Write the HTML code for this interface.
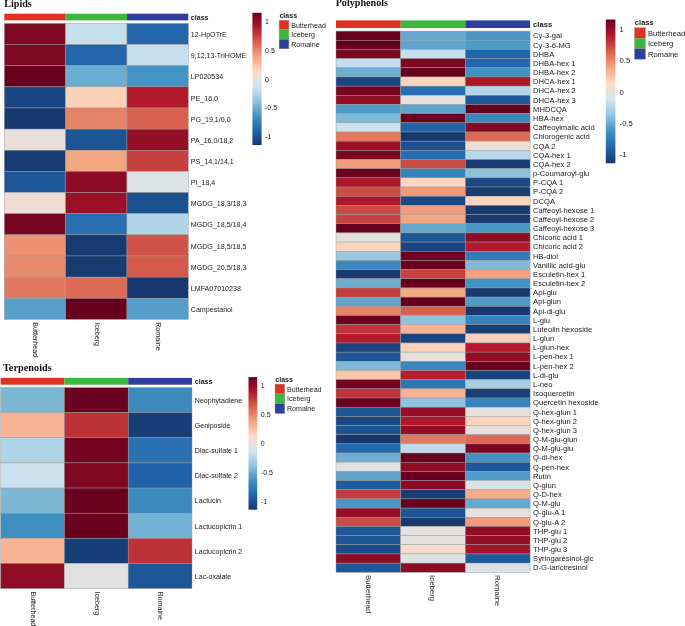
<!DOCTYPE html>
<html><head><meta charset="utf-8"><title>Heatmaps</title>
<style>html,body{margin:0;padding:0;background:#fff;}svg{display:block;filter:blur(0.35px)}
svg text{font-family:"Liberation Sans",sans-serif;fill:#1a1a1a;}
svg text.ttl{font-family:"Liberation Serif",serif;font-weight:bold;fill:#111;}</style></head>
<body><svg width="685" height="626" viewBox="0 0 685 626">
<defs><linearGradient id="cb" x1="0" y1="0" x2="0" y2="1"><stop offset="0.00%" stop-color="#67001F"/><stop offset="11.11%" stop-color="#B2182B"/><stop offset="22.22%" stop-color="#D6604D"/><stop offset="33.33%" stop-color="#F4A582"/><stop offset="44.44%" stop-color="#FDDBC7"/><stop offset="55.56%" stop-color="#D1E5F0"/><stop offset="66.67%" stop-color="#92C5DE"/><stop offset="77.78%" stop-color="#4393C3"/><stop offset="88.89%" stop-color="#2166AC"/><stop offset="100.00%" stop-color="#17386F"/></linearGradient></defs>
<rect width="685" height="626" fill="#fff"/>
<text x="4.3" y="6.9" class="ttl" font-size="10.1">Lipids</text>
<rect x="4.30" y="13.7" width="61.33" height="6.70" fill="#e03222"/>
<rect x="65.63" y="13.7" width="61.33" height="6.70" fill="#3cb83e"/>
<rect x="126.97" y="13.7" width="61.33" height="6.70" fill="#2f3f9f"/>
<rect x="4.30" y="23.40" width="61.33" height="21.14" fill="#7f0823" stroke="#9a9a9a" stroke-width="0.45"/>
<rect x="65.63" y="23.40" width="61.33" height="21.14" fill="#c5dfed" stroke="#9a9a9a" stroke-width="0.45"/>
<rect x="126.97" y="23.40" width="61.33" height="21.14" fill="#2165ab" stroke="#9a9a9a" stroke-width="0.45"/>
<text x="190.8" y="37.13" font-size="7.1">12-HpOTrE</text>
<rect x="4.30" y="44.54" width="61.33" height="21.14" fill="#7f0823" stroke="#9a9a9a" stroke-width="0.45"/>
<rect x="65.63" y="44.54" width="61.33" height="21.14" fill="#2165ab" stroke="#9a9a9a" stroke-width="0.45"/>
<rect x="126.97" y="44.54" width="61.33" height="21.14" fill="#c5dfed" stroke="#9a9a9a" stroke-width="0.45"/>
<text x="190.8" y="58.27" font-size="7.1">9,12,13-TriHOME</text>
<rect x="4.30" y="65.69" width="61.33" height="21.14" fill="#67001f" stroke="#9a9a9a" stroke-width="0.45"/>
<rect x="65.63" y="65.69" width="61.33" height="21.14" fill="#6bacd1" stroke="#9a9a9a" stroke-width="0.45"/>
<rect x="126.97" y="65.69" width="61.33" height="21.14" fill="#4494c3" stroke="#9a9a9a" stroke-width="0.45"/>
<text x="190.8" y="79.41" font-size="7.1">LP020534</text>
<rect x="4.30" y="86.83" width="61.33" height="21.14" fill="#1a4782" stroke="#9a9a9a" stroke-width="0.45"/>
<rect x="65.63" y="86.83" width="61.33" height="21.14" fill="#fbd1ba" stroke="#9a9a9a" stroke-width="0.45"/>
<rect x="126.97" y="86.83" width="61.33" height="21.14" fill="#b1182b" stroke="#9a9a9a" stroke-width="0.45"/>
<text x="190.8" y="100.56" font-size="7.1">PE_16,0</text>
<rect x="4.30" y="107.97" width="61.33" height="21.14" fill="#17386f" stroke="#9a9a9a" stroke-width="0.45"/>
<rect x="65.63" y="107.97" width="61.33" height="21.14" fill="#e58368" stroke="#9a9a9a" stroke-width="0.45"/>
<rect x="126.97" y="107.97" width="61.33" height="21.14" fill="#d6614e" stroke="#9a9a9a" stroke-width="0.45"/>
<text x="190.8" y="121.70" font-size="7.1">PG_19,1/0,0</text>
<rect x="4.30" y="129.11" width="61.33" height="21.14" fill="#e8e0db" stroke="#9a9a9a" stroke-width="0.45"/>
<rect x="65.63" y="129.11" width="61.33" height="21.14" fill="#1d5494" stroke="#9a9a9a" stroke-width="0.45"/>
<rect x="126.97" y="129.11" width="61.33" height="21.14" fill="#940e26" stroke="#9a9a9a" stroke-width="0.45"/>
<text x="190.8" y="142.84" font-size="7.1">PA_16,0/18,2</text>
<rect x="4.30" y="150.26" width="61.33" height="21.14" fill="#183b73" stroke="#9a9a9a" stroke-width="0.45"/>
<rect x="65.63" y="150.26" width="61.33" height="21.14" fill="#f4a582" stroke="#9a9a9a" stroke-width="0.45"/>
<rect x="126.97" y="150.26" width="61.33" height="21.14" fill="#c6403e" stroke="#9a9a9a" stroke-width="0.45"/>
<text x="190.8" y="163.98" font-size="7.1">PS_14,1/14,1</text>
<rect x="4.30" y="171.40" width="61.33" height="21.14" fill="#1e589a" stroke="#9a9a9a" stroke-width="0.45"/>
<rect x="65.63" y="171.40" width="61.33" height="21.14" fill="#8c0c25" stroke="#9a9a9a" stroke-width="0.45"/>
<rect x="126.97" y="171.40" width="61.33" height="21.14" fill="#dde2e5" stroke="#9a9a9a" stroke-width="0.45"/>
<text x="190.8" y="185.13" font-size="7.1">PI_18,4</text>
<rect x="4.30" y="192.54" width="61.33" height="21.14" fill="#eeded5" stroke="#9a9a9a" stroke-width="0.45"/>
<rect x="65.63" y="192.54" width="61.33" height="21.14" fill="#991027" stroke="#9a9a9a" stroke-width="0.45"/>
<rect x="126.97" y="192.54" width="61.33" height="21.14" fill="#1c508f" stroke="#9a9a9a" stroke-width="0.45"/>
<text x="190.8" y="206.27" font-size="7.1">MGDG_18,3/18,3</text>
<rect x="4.30" y="213.69" width="61.33" height="21.14" fill="#770522" stroke="#9a9a9a" stroke-width="0.45"/>
<rect x="65.63" y="213.69" width="61.33" height="21.14" fill="#286fb1" stroke="#9a9a9a" stroke-width="0.45"/>
<rect x="126.97" y="213.69" width="61.33" height="21.14" fill="#b1d5e7" stroke="#9a9a9a" stroke-width="0.45"/>
<text x="190.8" y="227.41" font-size="7.1">MGDG_18,5/18,4</text>
<rect x="4.30" y="234.83" width="61.33" height="21.14" fill="#ec9273" stroke="#9a9a9a" stroke-width="0.45"/>
<rect x="65.63" y="234.83" width="61.33" height="21.14" fill="#173a71" stroke="#9a9a9a" stroke-width="0.45"/>
<rect x="126.97" y="234.83" width="61.33" height="21.14" fill="#d05447" stroke="#9a9a9a" stroke-width="0.45"/>
<text x="190.8" y="248.56" font-size="7.1">MGDG_18,5/18,5</text>
<rect x="4.30" y="255.97" width="61.33" height="21.14" fill="#e88a6d" stroke="#9a9a9a" stroke-width="0.45"/>
<rect x="65.63" y="255.97" width="61.33" height="21.14" fill="#173a71" stroke="#9a9a9a" stroke-width="0.45"/>
<rect x="126.97" y="255.97" width="61.33" height="21.14" fill="#d3594a" stroke="#9a9a9a" stroke-width="0.45"/>
<text x="190.8" y="269.70" font-size="7.1">MGDG_20,5/18,3</text>
<rect x="4.30" y="277.11" width="61.33" height="21.14" fill="#e17960" stroke="#9a9a9a" stroke-width="0.45"/>
<rect x="65.63" y="277.11" width="61.33" height="21.14" fill="#db6b55" stroke="#9a9a9a" stroke-width="0.45"/>
<rect x="126.97" y="277.11" width="61.33" height="21.14" fill="#17386f" stroke="#9a9a9a" stroke-width="0.45"/>
<text x="190.8" y="290.84" font-size="7.1">LMFA07010238</text>
<rect x="4.30" y="298.26" width="61.33" height="21.14" fill="#57a0ca" stroke="#9a9a9a" stroke-width="0.45"/>
<rect x="65.63" y="298.26" width="61.33" height="21.14" fill="#67001f" stroke="#9a9a9a" stroke-width="0.45"/>
<rect x="126.97" y="298.26" width="61.33" height="21.14" fill="#559ec9" stroke="#9a9a9a" stroke-width="0.45"/>
<text x="190.8" y="311.98" font-size="7.1">Campestanol</text>
<text x="190.8" y="19.61" font-size="7.1" font-weight="bold">class</text>
<text transform="translate(33.19,322.20) rotate(90)" font-size="7.15">Butterhead</text>
<text transform="translate(94.53,322.20) rotate(90)" font-size="7.15">Iceberg</text>
<text transform="translate(155.86,322.20) rotate(90)" font-size="7.15">Romaine</text>
<rect x="252.4" y="12.8" width="9.20" height="132.20" fill="url(#cb)"/>
<text x="265.0" y="24.46" font-size="7.1">1</text>
<text x="265.0" y="53.13" font-size="7.1">0.5</text>
<text x="265.0" y="81.81" font-size="7.1">0</text>
<text x="265.0" y="110.48" font-size="7.1">-0.5</text>
<text x="265.0" y="139.16" font-size="7.1">-1</text>
<text x="279.40000000000003" y="17.6" font-size="7.1" font-weight="bold">class</text>
<rect x="279.1" y="20.20" width="9.8" height="9.55" fill="#e03222" stroke="#9a9a9a" stroke-width="0.4"/>
<text x="291.2" y="27.53" font-size="7.1">Butterhead</text>
<rect x="279.1" y="29.75" width="9.8" height="9.55" fill="#3cb83e" stroke="#9a9a9a" stroke-width="0.4"/>
<text x="291.2" y="37.08" font-size="7.1">Iceberg</text>
<rect x="279.1" y="39.30" width="9.8" height="9.55" fill="#2f3f9f" stroke="#9a9a9a" stroke-width="0.4"/>
<text x="291.2" y="46.63" font-size="7.1">Romaine</text>
<text x="2.9" y="371.4" class="ttl" font-size="10.3">Terpenoids</text>
<rect x="0.60" y="377.9" width="63.80" height="6.80" fill="#e03222"/>
<rect x="64.40" y="377.9" width="63.80" height="6.80" fill="#3cb83e"/>
<rect x="128.20" y="377.9" width="63.80" height="6.80" fill="#2f3f9f"/>
<rect x="0.60" y="387.50" width="63.80" height="25.14" fill="#7cb7d6" stroke="#9a9a9a" stroke-width="0.45"/>
<rect x="64.40" y="387.50" width="63.80" height="25.14" fill="#6a011f" stroke="#9a9a9a" stroke-width="0.45"/>
<rect x="128.20" y="387.50" width="63.80" height="25.14" fill="#3c8abe" stroke="#9a9a9a" stroke-width="0.45"/>
<text x="194.8" y="402.91" font-size="7.05">Neophytadiene</text>
<rect x="0.60" y="412.64" width="63.80" height="25.14" fill="#f7b495" stroke="#9a9a9a" stroke-width="0.45"/>
<rect x="64.40" y="412.64" width="63.80" height="25.14" fill="#be3137" stroke="#9a9a9a" stroke-width="0.45"/>
<rect x="128.20" y="412.64" width="63.80" height="25.14" fill="#183e78" stroke="#9a9a9a" stroke-width="0.45"/>
<text x="194.8" y="428.04" font-size="7.05">Geniposide</text>
<rect x="0.60" y="437.77" width="63.80" height="25.14" fill="#afd4e6" stroke="#9a9a9a" stroke-width="0.45"/>
<rect x="64.40" y="437.77" width="63.80" height="25.14" fill="#740421" stroke="#9a9a9a" stroke-width="0.45"/>
<rect x="128.20" y="437.77" width="63.80" height="25.14" fill="#2971b1" stroke="#9a9a9a" stroke-width="0.45"/>
<text x="194.8" y="453.18" font-size="7.05">Dlac-sulfate 1</text>
<rect x="0.60" y="462.91" width="63.80" height="25.14" fill="#cce2ef" stroke="#9a9a9a" stroke-width="0.45"/>
<rect x="64.40" y="462.91" width="63.80" height="25.14" fill="#810823" stroke="#9a9a9a" stroke-width="0.45"/>
<rect x="128.20" y="462.91" width="63.80" height="25.14" fill="#2062a7" stroke="#9a9a9a" stroke-width="0.45"/>
<text x="194.8" y="478.32" font-size="7.05">Dlac-sulfate 2</text>
<rect x="0.60" y="488.05" width="63.80" height="25.14" fill="#7cb7d6" stroke="#9a9a9a" stroke-width="0.45"/>
<rect x="64.40" y="488.05" width="63.80" height="25.14" fill="#6a011f" stroke="#9a9a9a" stroke-width="0.45"/>
<rect x="128.20" y="488.05" width="63.80" height="25.14" fill="#3c8abe" stroke="#9a9a9a" stroke-width="0.45"/>
<text x="194.8" y="503.46" font-size="7.05">Lactucin</text>
<rect x="0.60" y="513.19" width="63.80" height="25.14" fill="#408fc1" stroke="#9a9a9a" stroke-width="0.45"/>
<rect x="64.40" y="513.19" width="63.80" height="25.14" fill="#6a011f" stroke="#9a9a9a" stroke-width="0.45"/>
<rect x="128.20" y="513.19" width="63.80" height="25.14" fill="#73b2d4" stroke="#9a9a9a" stroke-width="0.45"/>
<text x="194.8" y="528.59" font-size="7.05">Lactucopicrin 1</text>
<rect x="0.60" y="538.33" width="63.80" height="25.14" fill="#f7b495" stroke="#9a9a9a" stroke-width="0.45"/>
<rect x="64.40" y="538.33" width="63.80" height="25.14" fill="#183e78" stroke="#9a9a9a" stroke-width="0.45"/>
<rect x="128.20" y="538.33" width="63.80" height="25.14" fill="#be3137" stroke="#9a9a9a" stroke-width="0.45"/>
<text x="194.8" y="553.73" font-size="7.05">Lactucopicrin 2</text>
<rect x="0.60" y="563.46" width="63.80" height="25.14" fill="#8f0d25" stroke="#9a9a9a" stroke-width="0.45"/>
<rect x="64.40" y="563.46" width="63.80" height="25.14" fill="#e2e1e1" stroke="#9a9a9a" stroke-width="0.45"/>
<rect x="128.20" y="563.46" width="63.80" height="25.14" fill="#1e5798" stroke="#9a9a9a" stroke-width="0.45"/>
<text x="194.8" y="578.87" font-size="7.05">Lac-oxalate</text>
<text x="194.8" y="383.84" font-size="7.05" font-weight="bold">class</text>
<text transform="translate(30.83,591.40) rotate(90)" font-size="7.15">Butterhead</text>
<text transform="translate(94.63,591.40) rotate(90)" font-size="7.15">Iceberg</text>
<text transform="translate(158.43,591.40) rotate(90)" font-size="7.15">Romaine</text>
<rect x="248.5" y="377.1" width="8.70" height="132.60" fill="url(#cb)"/>
<text x="260.8" y="388.34" font-size="7.05">1</text>
<text x="260.8" y="417.14" font-size="7.05">0.5</text>
<text x="260.8" y="445.94" font-size="7.05">0</text>
<text x="260.8" y="474.74" font-size="7.05">-0.5</text>
<text x="260.8" y="503.54" font-size="7.05">-1</text>
<text x="275.3" y="381.8" font-size="7.05" font-weight="bold">class</text>
<rect x="275.0" y="384.10" width="9.7" height="9.80" fill="#e03222" stroke="#9a9a9a" stroke-width="0.4"/>
<text x="287.0" y="391.54" font-size="7.05">Butterhead</text>
<rect x="275.0" y="393.90" width="9.7" height="9.80" fill="#3cb83e" stroke="#9a9a9a" stroke-width="0.4"/>
<text x="287.0" y="401.34" font-size="7.05">Iceberg</text>
<rect x="275.0" y="403.70" width="9.7" height="9.80" fill="#2f3f9f" stroke="#9a9a9a" stroke-width="0.4"/>
<text x="287.0" y="411.14" font-size="7.05">Romaine</text>
<text x="335.7" y="6.4" class="ttl" font-size="10.15">Polyphenols</text>
<rect x="336.00" y="20.4" width="64.70" height="7.60" fill="#e03222"/>
<rect x="400.70" y="20.4" width="64.70" height="7.60" fill="#3cb83e"/>
<rect x="465.40" y="20.4" width="64.70" height="7.60" fill="#2f3f9f"/>
<rect x="336.00" y="31.10" width="64.70" height="9.17" fill="#67001f" stroke="#9a9a9a" stroke-width="0.45"/>
<rect x="400.70" y="31.10" width="64.70" height="9.17" fill="#65a9cf" stroke="#9a9a9a" stroke-width="0.45"/>
<rect x="465.40" y="31.10" width="64.70" height="9.17" fill="#4a97c5" stroke="#9a9a9a" stroke-width="0.45"/>
<text x="533.1" y="38.43" font-size="7.62">Cy-3-gal</text>
<rect x="336.00" y="40.27" width="64.70" height="9.17" fill="#67001f" stroke="#9a9a9a" stroke-width="0.45"/>
<rect x="400.70" y="40.27" width="64.70" height="9.17" fill="#60a5cd" stroke="#9a9a9a" stroke-width="0.45"/>
<rect x="465.40" y="40.27" width="64.70" height="9.17" fill="#4f9bc7" stroke="#9a9a9a" stroke-width="0.45"/>
<text x="533.1" y="47.60" font-size="7.62">Cy-3-6-MG</text>
<rect x="336.00" y="49.45" width="64.70" height="9.17" fill="#7c0722" stroke="#9a9a9a" stroke-width="0.45"/>
<rect x="400.70" y="49.45" width="64.70" height="9.17" fill="#c5dfed" stroke="#9a9a9a" stroke-width="0.45"/>
<rect x="465.40" y="49.45" width="64.70" height="9.17" fill="#2165ab" stroke="#9a9a9a" stroke-width="0.45"/>
<text x="533.1" y="56.78" font-size="7.62">DHBA</text>
<rect x="336.00" y="58.62" width="64.70" height="9.17" fill="#c3deec" stroke="#9a9a9a" stroke-width="0.45"/>
<rect x="400.70" y="58.62" width="64.70" height="9.17" fill="#7c0722" stroke="#9a9a9a" stroke-width="0.45"/>
<rect x="465.40" y="58.62" width="64.70" height="9.17" fill="#2267ad" stroke="#9a9a9a" stroke-width="0.45"/>
<text x="533.1" y="65.95" font-size="7.62">DHBA-hex 1</text>
<rect x="336.00" y="67.79" width="64.70" height="9.17" fill="#6eaed2" stroke="#9a9a9a" stroke-width="0.45"/>
<rect x="400.70" y="67.79" width="64.70" height="9.17" fill="#67001f" stroke="#9a9a9a" stroke-width="0.45"/>
<rect x="465.40" y="67.79" width="64.70" height="9.17" fill="#4292c2" stroke="#9a9a9a" stroke-width="0.45"/>
<text x="533.1" y="75.12" font-size="7.62">DHBA-hex 2</text>
<rect x="336.00" y="76.96" width="64.70" height="9.17" fill="#1a4782" stroke="#9a9a9a" stroke-width="0.45"/>
<rect x="400.70" y="76.96" width="64.70" height="9.17" fill="#fcd3bc" stroke="#9a9a9a" stroke-width="0.45"/>
<rect x="465.40" y="76.96" width="64.70" height="9.17" fill="#ae172a" stroke="#9a9a9a" stroke-width="0.45"/>
<text x="533.1" y="84.29" font-size="7.62">DHCA-hex 1</text>
<rect x="336.00" y="86.14" width="64.70" height="9.17" fill="#770522" stroke="#9a9a9a" stroke-width="0.45"/>
<rect x="400.70" y="86.14" width="64.70" height="9.17" fill="#276db0" stroke="#9a9a9a" stroke-width="0.45"/>
<rect x="465.40" y="86.14" width="64.70" height="9.17" fill="#b3d6e8" stroke="#9a9a9a" stroke-width="0.45"/>
<text x="533.1" y="93.47" font-size="7.62">DHCA-hex 2</text>
<rect x="336.00" y="95.31" width="64.70" height="9.17" fill="#8f0d25" stroke="#9a9a9a" stroke-width="0.45"/>
<rect x="400.70" y="95.31" width="64.70" height="9.17" fill="#e2e1e1" stroke="#9a9a9a" stroke-width="0.45"/>
<rect x="465.40" y="95.31" width="64.70" height="9.17" fill="#1e5798" stroke="#9a9a9a" stroke-width="0.45"/>
<text x="533.1" y="102.64" font-size="7.62">DHCA-hex 3</text>
<rect x="336.00" y="104.48" width="64.70" height="9.17" fill="#4f9bc7" stroke="#9a9a9a" stroke-width="0.45"/>
<rect x="400.70" y="104.48" width="64.70" height="9.17" fill="#60a5cd" stroke="#9a9a9a" stroke-width="0.45"/>
<rect x="465.40" y="104.48" width="64.70" height="9.17" fill="#67001f" stroke="#9a9a9a" stroke-width="0.45"/>
<text x="533.1" y="111.81" font-size="7.62">MHDCQA</text>
<rect x="336.00" y="113.66" width="64.70" height="9.17" fill="#7eb9d7" stroke="#9a9a9a" stroke-width="0.45"/>
<rect x="400.70" y="113.66" width="64.70" height="9.17" fill="#6a011f" stroke="#9a9a9a" stroke-width="0.45"/>
<rect x="465.40" y="113.66" width="64.70" height="9.17" fill="#3b88be" stroke="#9a9a9a" stroke-width="0.45"/>
<text x="533.1" y="120.99" font-size="7.62">HBA-hex</text>
<rect x="336.00" y="122.83" width="64.70" height="9.17" fill="#cce2ef" stroke="#9a9a9a" stroke-width="0.45"/>
<rect x="400.70" y="122.83" width="64.70" height="9.17" fill="#2062a7" stroke="#9a9a9a" stroke-width="0.45"/>
<rect x="465.40" y="122.83" width="64.70" height="9.17" fill="#810823" stroke="#9a9a9a" stroke-width="0.45"/>
<text x="533.1" y="130.16" font-size="7.62">Caffeoylmalic acid</text>
<rect x="336.00" y="132.00" width="64.70" height="9.17" fill="#e17960" stroke="#9a9a9a" stroke-width="0.45"/>
<rect x="400.70" y="132.00" width="64.70" height="9.17" fill="#17386f" stroke="#9a9a9a" stroke-width="0.45"/>
<rect x="465.40" y="132.00" width="64.70" height="9.17" fill="#db6b55" stroke="#9a9a9a" stroke-width="0.45"/>
<text x="533.1" y="139.33" font-size="7.62">Chlorogenic acid</text>
<rect x="336.00" y="141.17" width="64.70" height="9.17" fill="#991027" stroke="#9a9a9a" stroke-width="0.45"/>
<rect x="400.70" y="141.17" width="64.70" height="9.17" fill="#1c508f" stroke="#9a9a9a" stroke-width="0.45"/>
<rect x="465.40" y="141.17" width="64.70" height="9.17" fill="#ecdfd6" stroke="#9a9a9a" stroke-width="0.45"/>
<text x="533.1" y="148.50" font-size="7.62">CQA 2</text>
<rect x="336.00" y="150.35" width="64.70" height="9.17" fill="#770522" stroke="#9a9a9a" stroke-width="0.45"/>
<rect x="400.70" y="150.35" width="64.70" height="9.17" fill="#256caf" stroke="#9a9a9a" stroke-width="0.45"/>
<rect x="465.40" y="150.35" width="64.70" height="9.17" fill="#b8d8e9" stroke="#9a9a9a" stroke-width="0.45"/>
<text x="533.1" y="157.68" font-size="7.62">CQA-hex 1</text>
<rect x="336.00" y="159.52" width="64.70" height="9.17" fill="#f09b7b" stroke="#9a9a9a" stroke-width="0.45"/>
<rect x="400.70" y="159.52" width="64.70" height="9.17" fill="#cb4a43" stroke="#9a9a9a" stroke-width="0.45"/>
<rect x="465.40" y="159.52" width="64.70" height="9.17" fill="#173a71" stroke="#9a9a9a" stroke-width="0.45"/>
<text x="533.1" y="166.85" font-size="7.62">CQA-hex 2</text>
<rect x="336.00" y="168.69" width="64.70" height="9.17" fill="#6c0220" stroke="#9a9a9a" stroke-width="0.45"/>
<rect x="400.70" y="168.69" width="64.70" height="9.17" fill="#3682ba" stroke="#9a9a9a" stroke-width="0.45"/>
<rect x="465.40" y="168.69" width="64.70" height="9.17" fill="#8cc1dc" stroke="#9a9a9a" stroke-width="0.45"/>
<text x="533.1" y="176.02" font-size="7.62">p-Coumaroyl-glu</text>
<rect x="336.00" y="177.87" width="64.70" height="9.17" fill="#ae172a" stroke="#9a9a9a" stroke-width="0.45"/>
<rect x="400.70" y="177.87" width="64.70" height="9.17" fill="#fcd5bf" stroke="#9a9a9a" stroke-width="0.45"/>
<rect x="465.40" y="177.87" width="64.70" height="9.17" fill="#1b4885" stroke="#9a9a9a" stroke-width="0.45"/>
<text x="533.1" y="185.20" font-size="7.62">P-CQA 1</text>
<rect x="336.00" y="187.04" width="64.70" height="9.17" fill="#cc4d44" stroke="#9a9a9a" stroke-width="0.45"/>
<rect x="400.70" y="187.04" width="64.70" height="9.17" fill="#ef9979" stroke="#9a9a9a" stroke-width="0.45"/>
<rect x="465.40" y="187.04" width="64.70" height="9.17" fill="#173a71" stroke="#9a9a9a" stroke-width="0.45"/>
<text x="533.1" y="194.37" font-size="7.62">P-CQA 2</text>
<rect x="336.00" y="196.21" width="64.70" height="9.17" fill="#ae172a" stroke="#9a9a9a" stroke-width="0.45"/>
<rect x="400.70" y="196.21" width="64.70" height="9.17" fill="#1b4885" stroke="#9a9a9a" stroke-width="0.45"/>
<rect x="465.40" y="196.21" width="64.70" height="9.17" fill="#fcd5bf" stroke="#9a9a9a" stroke-width="0.45"/>
<text x="533.1" y="203.54" font-size="7.62">DCQA</text>
<rect x="336.00" y="205.38" width="64.70" height="9.17" fill="#cb4a43" stroke="#9a9a9a" stroke-width="0.45"/>
<rect x="400.70" y="205.38" width="64.70" height="9.17" fill="#f09b7b" stroke="#9a9a9a" stroke-width="0.45"/>
<rect x="465.40" y="205.38" width="64.70" height="9.17" fill="#173a71" stroke="#9a9a9a" stroke-width="0.45"/>
<text x="533.1" y="212.71" font-size="7.62">Caffeoyl-hexose 1</text>
<rect x="336.00" y="214.56" width="64.70" height="9.17" fill="#c7423f" stroke="#9a9a9a" stroke-width="0.45"/>
<rect x="400.70" y="214.56" width="64.70" height="9.17" fill="#f4a582" stroke="#9a9a9a" stroke-width="0.45"/>
<rect x="465.40" y="214.56" width="64.70" height="9.17" fill="#183b73" stroke="#9a9a9a" stroke-width="0.45"/>
<text x="533.1" y="221.89" font-size="7.62">Caffeoyl-hexose 2</text>
<rect x="336.00" y="223.73" width="64.70" height="9.17" fill="#67001f" stroke="#9a9a9a" stroke-width="0.45"/>
<rect x="400.70" y="223.73" width="64.70" height="9.17" fill="#65a9cf" stroke="#9a9a9a" stroke-width="0.45"/>
<rect x="465.40" y="223.73" width="64.70" height="9.17" fill="#4a97c5" stroke="#9a9a9a" stroke-width="0.45"/>
<text x="533.1" y="231.06" font-size="7.62">Caffeoyl-hexose 3</text>
<rect x="336.00" y="232.90" width="64.70" height="9.17" fill="#e2e1e1" stroke="#9a9a9a" stroke-width="0.45"/>
<rect x="400.70" y="232.90" width="64.70" height="9.17" fill="#1e5798" stroke="#9a9a9a" stroke-width="0.45"/>
<rect x="465.40" y="232.90" width="64.70" height="9.17" fill="#8f0d25" stroke="#9a9a9a" stroke-width="0.45"/>
<text x="533.1" y="240.23" font-size="7.62">Chicoric acid 1</text>
<rect x="336.00" y="242.08" width="64.70" height="9.17" fill="#fcd3bc" stroke="#9a9a9a" stroke-width="0.45"/>
<rect x="400.70" y="242.08" width="64.70" height="9.17" fill="#1a4782" stroke="#9a9a9a" stroke-width="0.45"/>
<rect x="465.40" y="242.08" width="64.70" height="9.17" fill="#b1182b" stroke="#9a9a9a" stroke-width="0.45"/>
<text x="533.1" y="249.41" font-size="7.62">Chicoric acid 2</text>
<rect x="336.00" y="251.25" width="64.70" height="9.17" fill="#99c8e0" stroke="#9a9a9a" stroke-width="0.45"/>
<rect x="400.70" y="251.25" width="64.70" height="9.17" fill="#6f0320" stroke="#9a9a9a" stroke-width="0.45"/>
<rect x="465.40" y="251.25" width="64.70" height="9.17" fill="#317cb7" stroke="#9a9a9a" stroke-width="0.45"/>
<text x="533.1" y="258.58" font-size="7.62">HB-diol</text>
<rect x="336.00" y="260.42" width="64.70" height="9.17" fill="#3b88be" stroke="#9a9a9a" stroke-width="0.45"/>
<rect x="400.70" y="260.42" width="64.70" height="9.17" fill="#6a011f" stroke="#9a9a9a" stroke-width="0.45"/>
<rect x="465.40" y="260.42" width="64.70" height="9.17" fill="#81bad8" stroke="#9a9a9a" stroke-width="0.45"/>
<text x="533.1" y="267.75" font-size="7.62">Vanillic acid-glu</text>
<rect x="336.00" y="269.59" width="64.70" height="9.17" fill="#183b73" stroke="#9a9a9a" stroke-width="0.45"/>
<rect x="400.70" y="269.59" width="64.70" height="9.17" fill="#c7423f" stroke="#9a9a9a" stroke-width="0.45"/>
<rect x="465.40" y="269.59" width="64.70" height="9.17" fill="#f3a380" stroke="#9a9a9a" stroke-width="0.45"/>
<text x="533.1" y="276.92" font-size="7.62">Esculetin-hex 1</text>
<rect x="336.00" y="278.77" width="64.70" height="9.17" fill="#6eaed2" stroke="#9a9a9a" stroke-width="0.45"/>
<rect x="400.70" y="278.77" width="64.70" height="9.17" fill="#67001f" stroke="#9a9a9a" stroke-width="0.45"/>
<rect x="465.40" y="278.77" width="64.70" height="9.17" fill="#4292c2" stroke="#9a9a9a" stroke-width="0.45"/>
<text x="533.1" y="286.10" font-size="7.62">Esculetin-hex 2</text>
<rect x="336.00" y="287.94" width="64.70" height="9.17" fill="#c53d3d" stroke="#9a9a9a" stroke-width="0.45"/>
<rect x="400.70" y="287.94" width="64.70" height="9.17" fill="#f4a784" stroke="#9a9a9a" stroke-width="0.45"/>
<rect x="465.40" y="287.94" width="64.70" height="9.17" fill="#183b73" stroke="#9a9a9a" stroke-width="0.45"/>
<text x="533.1" y="295.27" font-size="7.62">Api-glu</text>
<rect x="336.00" y="297.11" width="64.70" height="9.17" fill="#60a5cd" stroke="#9a9a9a" stroke-width="0.45"/>
<rect x="400.70" y="297.11" width="64.70" height="9.17" fill="#67001f" stroke="#9a9a9a" stroke-width="0.45"/>
<rect x="465.40" y="297.11" width="64.70" height="9.17" fill="#4f9bc7" stroke="#9a9a9a" stroke-width="0.45"/>
<text x="533.1" y="304.44" font-size="7.62">Api-glun</text>
<rect x="336.00" y="306.29" width="64.70" height="9.17" fill="#e58368" stroke="#9a9a9a" stroke-width="0.45"/>
<rect x="400.70" y="306.29" width="64.70" height="9.17" fill="#d55e4c" stroke="#9a9a9a" stroke-width="0.45"/>
<rect x="465.40" y="306.29" width="64.70" height="9.17" fill="#17386f" stroke="#9a9a9a" stroke-width="0.45"/>
<text x="533.1" y="313.62" font-size="7.62">Api-di-glu</text>
<rect x="336.00" y="315.46" width="64.70" height="9.17" fill="#6c0220" stroke="#9a9a9a" stroke-width="0.45"/>
<rect x="400.70" y="315.46" width="64.70" height="9.17" fill="#8fc3dd" stroke="#9a9a9a" stroke-width="0.45"/>
<rect x="465.40" y="315.46" width="64.70" height="9.17" fill="#3682ba" stroke="#9a9a9a" stroke-width="0.45"/>
<text x="533.1" y="322.79" font-size="7.62">L-glu</text>
<rect x="336.00" y="324.63" width="64.70" height="9.17" fill="#c03338" stroke="#9a9a9a" stroke-width="0.45"/>
<rect x="400.70" y="324.63" width="64.70" height="9.17" fill="#f6b293" stroke="#9a9a9a" stroke-width="0.45"/>
<rect x="465.40" y="324.63" width="64.70" height="9.17" fill="#183e78" stroke="#9a9a9a" stroke-width="0.45"/>
<text x="533.1" y="331.96" font-size="7.62">Luteolin hexoside</text>
<rect x="336.00" y="333.81" width="64.70" height="9.17" fill="#b31a2c" stroke="#9a9a9a" stroke-width="0.45"/>
<rect x="400.70" y="333.81" width="64.70" height="9.17" fill="#1a4580" stroke="#9a9a9a" stroke-width="0.45"/>
<rect x="465.40" y="333.81" width="64.70" height="9.17" fill="#fbcfb8" stroke="#9a9a9a" stroke-width="0.45"/>
<text x="533.1" y="341.13" font-size="7.62">L-glun</text>
<rect x="336.00" y="342.98" width="64.70" height="9.17" fill="#1a4580" stroke="#9a9a9a" stroke-width="0.45"/>
<rect x="400.70" y="342.98" width="64.70" height="9.17" fill="#fbcfb8" stroke="#9a9a9a" stroke-width="0.45"/>
<rect x="465.40" y="342.98" width="64.70" height="9.17" fill="#b31a2c" stroke="#9a9a9a" stroke-width="0.45"/>
<text x="533.1" y="350.31" font-size="7.62">L-glun-hex</text>
<rect x="336.00" y="352.15" width="64.70" height="9.17" fill="#1d5596" stroke="#9a9a9a" stroke-width="0.45"/>
<rect x="400.70" y="352.15" width="64.70" height="9.17" fill="#e5e1de" stroke="#9a9a9a" stroke-width="0.45"/>
<rect x="465.40" y="352.15" width="64.70" height="9.17" fill="#910e26" stroke="#9a9a9a" stroke-width="0.45"/>
<text x="533.1" y="359.48" font-size="7.62">L-pen-hex 1</text>
<rect x="336.00" y="361.32" width="64.70" height="9.17" fill="#7eb9d7" stroke="#9a9a9a" stroke-width="0.45"/>
<rect x="400.70" y="361.32" width="64.70" height="9.17" fill="#3b88be" stroke="#9a9a9a" stroke-width="0.45"/>
<rect x="465.40" y="361.32" width="64.70" height="9.17" fill="#6a011f" stroke="#9a9a9a" stroke-width="0.45"/>
<text x="533.1" y="368.65" font-size="7.62">L-pen-hex 2</text>
<rect x="336.00" y="370.50" width="64.70" height="9.17" fill="#fac7ae" stroke="#9a9a9a" stroke-width="0.45"/>
<rect x="400.70" y="370.50" width="64.70" height="9.17" fill="#b51f2e" stroke="#9a9a9a" stroke-width="0.45"/>
<rect x="465.40" y="370.50" width="64.70" height="9.17" fill="#19437e" stroke="#9a9a9a" stroke-width="0.45"/>
<text x="533.1" y="377.83" font-size="7.62">L-di-glu</text>
<rect x="336.00" y="379.67" width="64.70" height="9.17" fill="#720321" stroke="#9a9a9a" stroke-width="0.45"/>
<rect x="400.70" y="379.67" width="64.70" height="9.17" fill="#2d75b4" stroke="#9a9a9a" stroke-width="0.45"/>
<rect x="465.40" y="379.67" width="64.70" height="9.17" fill="#a6cfe4" stroke="#9a9a9a" stroke-width="0.45"/>
<text x="533.1" y="387.00" font-size="7.62">L-neo</text>
<rect x="336.00" y="388.84" width="64.70" height="9.17" fill="#c03338" stroke="#9a9a9a" stroke-width="0.45"/>
<rect x="400.70" y="388.84" width="64.70" height="9.17" fill="#f6b293" stroke="#9a9a9a" stroke-width="0.45"/>
<rect x="465.40" y="388.84" width="64.70" height="9.17" fill="#183e78" stroke="#9a9a9a" stroke-width="0.45"/>
<text x="533.1" y="396.17" font-size="7.62">Isoquercetin</text>
<rect x="336.00" y="398.02" width="64.70" height="9.17" fill="#6c0220" stroke="#9a9a9a" stroke-width="0.45"/>
<rect x="400.70" y="398.02" width="64.70" height="9.17" fill="#8fc3dd" stroke="#9a9a9a" stroke-width="0.45"/>
<rect x="465.40" y="398.02" width="64.70" height="9.17" fill="#3682ba" stroke="#9a9a9a" stroke-width="0.45"/>
<text x="533.1" y="405.34" font-size="7.62">Quercetin hexoside</text>
<rect x="336.00" y="407.19" width="64.70" height="9.17" fill="#1d5494" stroke="#9a9a9a" stroke-width="0.45"/>
<rect x="400.70" y="407.19" width="64.70" height="9.17" fill="#940e26" stroke="#9a9a9a" stroke-width="0.45"/>
<rect x="465.40" y="407.19" width="64.70" height="9.17" fill="#e6e0dc" stroke="#9a9a9a" stroke-width="0.45"/>
<text x="533.1" y="414.52" font-size="7.62">Q-hex-glun 1</text>
<rect x="336.00" y="416.36" width="64.70" height="9.17" fill="#1a4782" stroke="#9a9a9a" stroke-width="0.45"/>
<rect x="400.70" y="416.36" width="64.70" height="9.17" fill="#ae172a" stroke="#9a9a9a" stroke-width="0.45"/>
<rect x="465.40" y="416.36" width="64.70" height="9.17" fill="#fcd5bf" stroke="#9a9a9a" stroke-width="0.45"/>
<text x="533.1" y="423.69" font-size="7.62">Q-hex-glun 2</text>
<rect x="336.00" y="425.53" width="64.70" height="9.17" fill="#1d5494" stroke="#9a9a9a" stroke-width="0.45"/>
<rect x="400.70" y="425.53" width="64.70" height="9.17" fill="#940e26" stroke="#9a9a9a" stroke-width="0.45"/>
<rect x="465.40" y="425.53" width="64.70" height="9.17" fill="#e8e0db" stroke="#9a9a9a" stroke-width="0.45"/>
<text x="533.1" y="432.86" font-size="7.62">Q-hex-glun 3</text>
<rect x="336.00" y="434.71" width="64.70" height="9.17" fill="#17386f" stroke="#9a9a9a" stroke-width="0.45"/>
<rect x="400.70" y="434.71" width="64.70" height="9.17" fill="#e17960" stroke="#9a9a9a" stroke-width="0.45"/>
<rect x="465.40" y="434.71" width="64.70" height="9.17" fill="#db6b55" stroke="#9a9a9a" stroke-width="0.45"/>
<text x="533.1" y="442.04" font-size="7.62">Q-M-glu-glun</text>
<rect x="336.00" y="443.88" width="64.70" height="9.17" fill="#2369ad" stroke="#9a9a9a" stroke-width="0.45"/>
<rect x="400.70" y="443.88" width="64.70" height="9.17" fill="#c1ddeb" stroke="#9a9a9a" stroke-width="0.45"/>
<rect x="465.40" y="443.88" width="64.70" height="9.17" fill="#7c0722" stroke="#9a9a9a" stroke-width="0.45"/>
<text x="533.1" y="451.21" font-size="7.62">Q-M-glu-glu</text>
<rect x="336.00" y="453.05" width="64.70" height="9.17" fill="#6eaed2" stroke="#9a9a9a" stroke-width="0.45"/>
<rect x="400.70" y="453.05" width="64.70" height="9.17" fill="#67001f" stroke="#9a9a9a" stroke-width="0.45"/>
<rect x="465.40" y="453.05" width="64.70" height="9.17" fill="#4292c2" stroke="#9a9a9a" stroke-width="0.45"/>
<text x="533.1" y="460.38" font-size="7.62">Q-di-hex</text>
<rect x="336.00" y="462.23" width="64.70" height="9.17" fill="#e0e2e2" stroke="#9a9a9a" stroke-width="0.45"/>
<rect x="400.70" y="462.23" width="64.70" height="9.17" fill="#8f0d25" stroke="#9a9a9a" stroke-width="0.45"/>
<rect x="465.40" y="462.23" width="64.70" height="9.17" fill="#1e5798" stroke="#9a9a9a" stroke-width="0.45"/>
<text x="533.1" y="469.56" font-size="7.62">Q-pen-hex</text>
<rect x="336.00" y="471.40" width="64.70" height="9.17" fill="#60a5cd" stroke="#9a9a9a" stroke-width="0.45"/>
<rect x="400.70" y="471.40" width="64.70" height="9.17" fill="#67001f" stroke="#9a9a9a" stroke-width="0.45"/>
<rect x="465.40" y="471.40" width="64.70" height="9.17" fill="#4f9bc7" stroke="#9a9a9a" stroke-width="0.45"/>
<text x="533.1" y="478.73" font-size="7.62">Rutin</text>
<rect x="336.00" y="480.57" width="64.70" height="9.17" fill="#1f5c9e" stroke="#9a9a9a" stroke-width="0.45"/>
<rect x="400.70" y="480.57" width="64.70" height="9.17" fill="#890b25" stroke="#9a9a9a" stroke-width="0.45"/>
<rect x="465.40" y="480.57" width="64.70" height="9.17" fill="#dae3e8" stroke="#9a9a9a" stroke-width="0.45"/>
<text x="533.1" y="487.90" font-size="7.62">Q-glun</text>
<rect x="336.00" y="489.74" width="64.70" height="9.17" fill="#c33b3b" stroke="#9a9a9a" stroke-width="0.45"/>
<rect x="400.70" y="489.74" width="64.70" height="9.17" fill="#183d75" stroke="#9a9a9a" stroke-width="0.45"/>
<rect x="465.40" y="489.74" width="64.70" height="9.17" fill="#f5ab89" stroke="#9a9a9a" stroke-width="0.45"/>
<text x="533.1" y="497.07" font-size="7.62">Q-D-hex</text>
<rect x="336.00" y="498.92" width="64.70" height="9.17" fill="#4795c4" stroke="#9a9a9a" stroke-width="0.45"/>
<rect x="400.70" y="498.92" width="64.70" height="9.17" fill="#67001f" stroke="#9a9a9a" stroke-width="0.45"/>
<rect x="465.40" y="498.92" width="64.70" height="9.17" fill="#65a9cf" stroke="#9a9a9a" stroke-width="0.45"/>
<text x="533.1" y="506.25" font-size="7.62">Q-M-glu</text>
<rect x="336.00" y="508.09" width="64.70" height="9.17" fill="#940e26" stroke="#9a9a9a" stroke-width="0.45"/>
<rect x="400.70" y="508.09" width="64.70" height="9.17" fill="#1d5596" stroke="#9a9a9a" stroke-width="0.45"/>
<rect x="465.40" y="508.09" width="64.70" height="9.17" fill="#e5e1de" stroke="#9a9a9a" stroke-width="0.45"/>
<text x="533.1" y="515.42" font-size="7.62">Q-glu-A 1</text>
<rect x="336.00" y="517.26" width="64.70" height="9.17" fill="#cb4a43" stroke="#9a9a9a" stroke-width="0.45"/>
<rect x="400.70" y="517.26" width="64.70" height="9.17" fill="#173a71" stroke="#9a9a9a" stroke-width="0.45"/>
<rect x="465.40" y="517.26" width="64.70" height="9.17" fill="#f09b7b" stroke="#9a9a9a" stroke-width="0.45"/>
<text x="533.1" y="524.59" font-size="7.62">Q-glu-A 2</text>
<rect x="336.00" y="526.44" width="64.70" height="9.17" fill="#1e5798" stroke="#9a9a9a" stroke-width="0.45"/>
<rect x="400.70" y="526.44" width="64.70" height="9.17" fill="#e2e1e1" stroke="#9a9a9a" stroke-width="0.45"/>
<rect x="465.40" y="526.44" width="64.70" height="9.17" fill="#8f0d25" stroke="#9a9a9a" stroke-width="0.45"/>
<text x="533.1" y="533.77" font-size="7.62">THP-glu 1</text>
<rect x="336.00" y="535.61" width="64.70" height="9.17" fill="#1d5596" stroke="#9a9a9a" stroke-width="0.45"/>
<rect x="400.70" y="535.61" width="64.70" height="9.17" fill="#e5e1de" stroke="#9a9a9a" stroke-width="0.45"/>
<rect x="465.40" y="535.61" width="64.70" height="9.17" fill="#940e26" stroke="#9a9a9a" stroke-width="0.45"/>
<text x="533.1" y="542.94" font-size="7.62">THP-glu 2</text>
<rect x="336.00" y="544.78" width="64.70" height="9.17" fill="#1b4b89" stroke="#9a9a9a" stroke-width="0.45"/>
<rect x="400.70" y="544.78" width="64.70" height="9.17" fill="#f9dccb" stroke="#9a9a9a" stroke-width="0.45"/>
<rect x="465.40" y="544.78" width="64.70" height="9.17" fill="#a41329" stroke="#9a9a9a" stroke-width="0.45"/>
<text x="533.1" y="552.11" font-size="7.62">THP-glu 3</text>
<rect x="336.00" y="553.95" width="64.70" height="9.17" fill="#8c0c25" stroke="#9a9a9a" stroke-width="0.45"/>
<rect x="400.70" y="553.95" width="64.70" height="9.17" fill="#dee2e3" stroke="#9a9a9a" stroke-width="0.45"/>
<rect x="465.40" y="553.95" width="64.70" height="9.17" fill="#1e589a" stroke="#9a9a9a" stroke-width="0.45"/>
<text x="533.1" y="561.28" font-size="7.62">Syringaresinol-glc</text>
<rect x="336.00" y="563.13" width="64.70" height="9.17" fill="#1e589a" stroke="#9a9a9a" stroke-width="0.45"/>
<rect x="400.70" y="563.13" width="64.70" height="9.17" fill="#8c0c25" stroke="#9a9a9a" stroke-width="0.45"/>
<rect x="465.40" y="563.13" width="64.70" height="9.17" fill="#dee2e3" stroke="#9a9a9a" stroke-width="0.45"/>
<text x="533.1" y="570.46" font-size="7.62">D-G-lariciresinol</text>
<text x="533.1" y="26.94" font-size="7.62" font-weight="bold">class</text>
<text transform="translate(365.54,575.10) rotate(90)" font-size="7.8">Butterhead</text>
<text transform="translate(430.24,575.10) rotate(90)" font-size="7.8">Iceberg</text>
<text transform="translate(494.94,575.10) rotate(90)" font-size="7.8">Romaine</text>
<rect x="605.8" y="19.5" width="9.60" height="143.80" fill="url(#cb)"/>
<text x="619.6" y="32.14" font-size="7.62">1</text>
<text x="619.6" y="63.39" font-size="7.62">0.5</text>
<text x="619.6" y="94.64" font-size="7.62">0</text>
<text x="619.6" y="125.89" font-size="7.62">-0.5</text>
<text x="619.6" y="157.14" font-size="7.62">-1</text>
<text x="634.8" y="25.0" font-size="7.62" font-weight="bold">class</text>
<rect x="634.5" y="27.70" width="11.0" height="10.50" fill="#e03222" stroke="#9a9a9a" stroke-width="0.4"/>
<text x="647.9" y="35.69" font-size="7.62">Butterhead</text>
<rect x="634.5" y="38.20" width="11.0" height="10.50" fill="#3cb83e" stroke="#9a9a9a" stroke-width="0.4"/>
<text x="647.9" y="46.19" font-size="7.62">Iceberg</text>
<rect x="634.5" y="48.70" width="11.0" height="10.50" fill="#2f3f9f" stroke="#9a9a9a" stroke-width="0.4"/>
<text x="647.9" y="56.69" font-size="7.62">Romaine</text>
</svg></body></html>
